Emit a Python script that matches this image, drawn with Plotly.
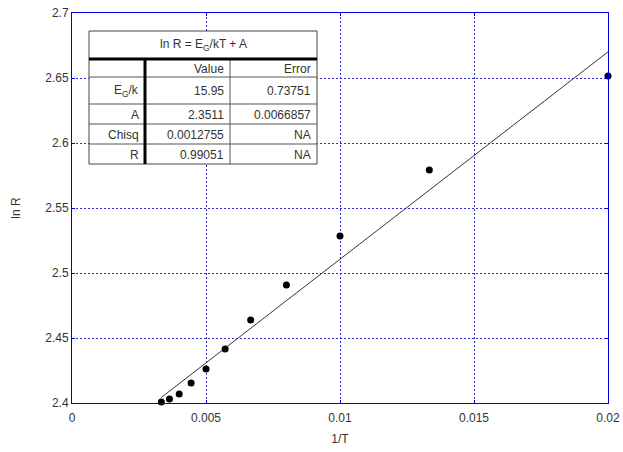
import plotly.graph_objects as go

# Measured points: inverse temperature and log resistance
inv_T = [1/300, 1/275, 1/250, 1/225, 1/200, 1/175, 1/150, 1/125, 1/100, 1/75, 1/50]
ln_R = [2.4008, 2.4030, 2.4069, 2.4154, 2.4262, 2.4415, 2.4638, 2.4908, 2.5285, 2.5792, 2.6515]

# Linear fit ln R = (E_G/k) * (1/T) + A
fit_slope = 15.95
fit_intercept = 2.3511
fit_x = [min(inv_T), max(inv_T)]

# Fit summary table
table_title = "ln R = E<sub>G</sub>/kT + A"
table_header = ["", "Value", "Error"]
row_labels = ["E<sub>G</sub>/k", "A", "Chisq", "R"]
row_values = ["15.95", "2.3511", "0.0012755", "0.99051"]
row_errors = ["0.73751", "0.0066857", "NA", "NA"]

x_ticks = [0, 0.005, 0.01, 0.015, 0.02]
x_tick_text = ["0", "0.005", "0.01", "0.015", "0.02"]
y_ticks = [2.4, 2.45, 2.5, 2.55, 2.6, 2.65, 2.7]
y_tick_text = ["2.4", "2.45", "2.5", "2.55", "2.6", "2.65", "2.7"]

W, H = 623, 452
ML, MR, MT, MB = 72, 15, 13, 49
PW, PH = W - ML - MR, H - MT - MB

FONT = "Liberation Sans, Arial, sans-serif"
TEXT_COLOR = "#333333"


def px(x):
    return (x - ML) / PW


def py(y):
    return (H - MB - y) / PH


fig = go.Figure()

fig.add_trace(go.Scatter(
    x=fit_x,
    y=[fit_slope * v + fit_intercept for v in fit_x],
    mode="lines",
    line=dict(color="#333333", width=1),
    hoverinfo="skip",
))
fig.add_trace(go.Scatter(
    x=inv_T, y=ln_R, mode="markers", cliponaxis=False,
    marker=dict(color="black", size=7, line=dict(width=0)),
))

shapes = []
annotations = []

# table geometry (pixels)
tl, tr, tt, tb = 89, 317, 31, 164
title_bottom = 59
col_edges = [tl, 145, 230, tr]
row_edges = [title_bottom, 77, 104, 124, 144, tb]

shapes.append(dict(type="rect", xref="paper", yref="paper",
                   x0=px(tl), x1=px(tr), y0=py(tb), y1=py(tt),
                   fillcolor="white", line=dict(color="#444444", width=1),
                   layer="above"))
for ry in row_edges[1:-1]:
    shapes.append(dict(type="line", xref="paper", yref="paper",
                       x0=px(tl), x1=px(tr), y0=py(ry), y1=py(ry),
                       line=dict(color="#555555", width=1), layer="above"))
shapes.append(dict(type="line", xref="paper", yref="paper",
                   x0=px(col_edges[2]), x1=px(col_edges[2]),
                   y0=py(title_bottom), y1=py(tb),
                   line=dict(color="#555555", width=1), layer="above"))
shapes.append(dict(type="line", xref="paper", yref="paper",
                   x0=px(tl), x1=px(tr), y0=py(title_bottom), y1=py(title_bottom),
                   line=dict(color="black", width=3), layer="above"))
shapes.append(dict(type="line", xref="paper", yref="paper",
                   x0=px(col_edges[1]), x1=px(col_edges[1]),
                   y0=py(title_bottom - 1), y1=py(tb),
                   line=dict(color="black", width=3), layer="above"))

tfont = dict(family=FONT, size=12, color=TEXT_COLOR)
annotations.append(dict(text=table_title, xref="paper", yref="paper",
                        x=px((tl + tr) / 2), y=py((tt + title_bottom) / 2),
                        showarrow=False, font=tfont, xanchor="center", yanchor="middle"))

rows = [table_header] + [[a, b, c] for a, b, c in zip(row_labels, row_values, row_errors)]
for i, row in enumerate(rows):
    yc = (row_edges[i] + row_edges[i + 1]) / 2 + 1
    for j, cell in enumerate(row):
        if not cell:
            continue
        annotations.append(dict(text=cell, xref="paper", yref="paper",
                                x=px(col_edges[j + 1] - 4), y=py(yc),
                                showarrow=False, font=tfont,
                                xanchor="right", yanchor="middle"))

axis_common = dict(
    automargin=False,
    showline=True, linecolor="#0000dd", linewidth=1, mirror="ticks",
    showgrid=True, gridcolor="#2a2ad8", griddash="2px,2px", gridwidth=1,
    zeroline=False, ticks="inside", ticklen=3, tickcolor="#0000dd",
    tickfont=dict(family=FONT, size=12, color=TEXT_COLOR),
)

fig.update_layout(
    width=W, height=H,
    margin=dict(l=ML, r=MR, t=MT, b=MB),
    paper_bgcolor="white", plot_bgcolor="white",
    showlegend=False,
    xaxis=dict(range=[0, 0.02], tickvals=x_ticks, ticktext=x_tick_text,
               ticklabelstandoff=4,
               title=dict(text="1/T", standoff=10,
                          font=dict(family=FONT, size=12, color=TEXT_COLOR)),
               **axis_common),
    yaxis=dict(range=[2.4, 2.7], tickvals=y_ticks, ticktext=y_tick_text,
               title=dict(text="ln R", standoff=22,
                          font=dict(family=FONT, size=12, color=TEXT_COLOR)),
               **axis_common),
    shapes=shapes,
    annotations=annotations,
)

fig.write_html("out.html")
